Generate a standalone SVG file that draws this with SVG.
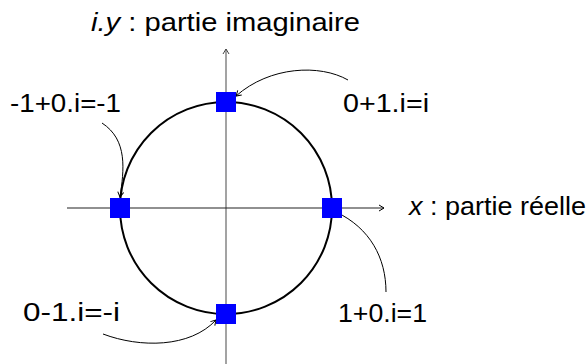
<svg xmlns="http://www.w3.org/2000/svg" width="588" height="364" viewBox="0 0 588 364">
<style>
text{font-family:"Liberation Sans",Arial,Helvetica,sans-serif;font-size:25.5px;fill:#000}
.it{font-style:italic}
.axis{fill:none;stroke-width:1.2}
.conn{fill:none;stroke:#000;stroke-width:1}
.pt{fill:#0000ff}
</style>
<defs>
<marker id="ah" markerWidth="8" markerHeight="8" refX="6" refY="4" orient="auto" markerUnits="userSpaceOnUse">
<path d="M1,1 L6,4 L1,7" fill="none" stroke="#000" stroke-width="1"/>
</marker>
<marker id="ahg" markerWidth="8" markerHeight="8" refX="6" refY="4" orient="auto" markerUnits="userSpaceOnUse">
<path d="M1,1 L6,4 L1,7" fill="none" stroke="#444" stroke-width="1"/>
</marker>
</defs>
<g id="axes">
<line class="axis" x1="226" y1="364" x2="226" y2="49" stroke="#666" marker-end="url(#ahg)"/>
<line class="axis" x1="67" y1="208" x2="384" y2="208" stroke="#222" marker-end="url(#ah)"/>
</g>
<g id="circle">
<circle cx="226" cy="208" r="106" fill="none" stroke="#000" stroke-width="2"/>
</g>
<g id="connectors">
<path class="conn" d="M348,80 C320,64 270,66 236,96" marker-end="url(#ah)"/>
<path class="conn" d="M102,123 C128,140 124,170 120,197" marker-end="url(#ah)"/>
<path class="conn" d="M336,212 C370,228 386,258 386,292"/>
<path class="conn" d="M103,334 C140,348 190,348 216,320" marker-end="url(#ah)"/>
</g>
<g id="p-top"><rect class="pt" x="216" y="92" width="20" height="20"/></g>
<g id="p-left"><rect class="pt" x="110" y="198" width="20" height="20"/></g>
<g id="p-right"><rect class="pt" x="322" y="198" width="20" height="20"/></g>
<g id="p-bottom"><rect class="pt" x="216" y="304" width="20" height="20"/></g>
<g id="labels">
<text x="91" y="31" textLength="269" lengthAdjust="spacingAndGlyphs"><tspan class="it">i.y</tspan> : partie imaginaire</text>
<text x="409" y="215" textLength="177" lengthAdjust="spacingAndGlyphs"><tspan class="it">x</tspan> : partie réelle</text>
<text x="10" y="112" textLength="111" lengthAdjust="spacingAndGlyphs">-1+0.i=-1</text>
<text x="343" y="112" textLength="86" lengthAdjust="spacingAndGlyphs">0+1.i=i</text>
<text x="23" y="321" textLength="97" lengthAdjust="spacingAndGlyphs">0-1.i=-i</text>
<text x="338" y="322" textLength="89" lengthAdjust="spacingAndGlyphs">1+0.i=1</text>
</g>
</svg>
